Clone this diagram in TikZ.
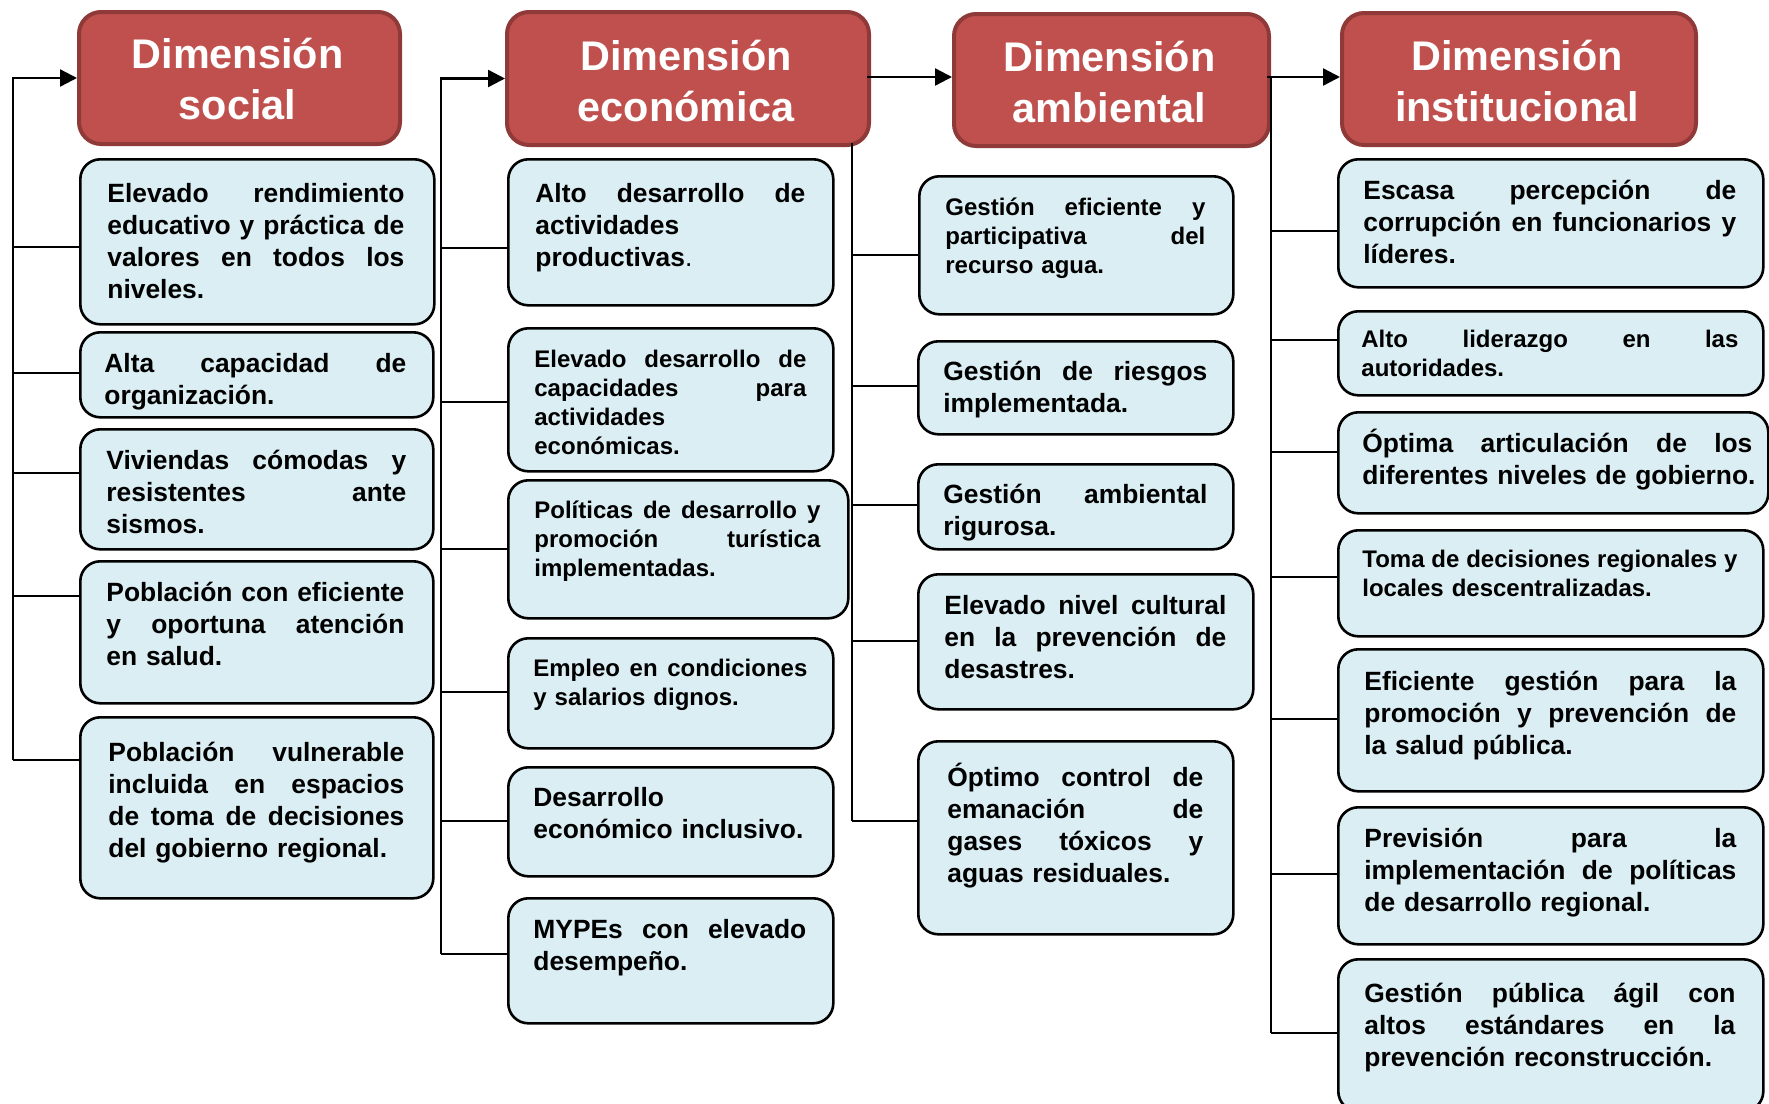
\documentclass[tikz,border=0pt]{standalone}
\usepackage{fontspec}
\setmainfont{Liberation Sans}
\usetikzlibrary{arrows.meta}
\definecolor{hdrfill}{HTML}{C0504D}
\definecolor{hdrline}{HTML}{8F3A38}
\definecolor{boxfill}{HTML}{DAEEF3}
\newcommand\jl[1]{{\spaceskip=\fontdimen2\font plus 1fill\relax\xspaceskip=\spaceskip\makebox[\hsize][s]{#1}}}
\tikzset{
  cbox/.style={draw=black,fill=boxfill,line width=1.3pt,rounded corners=10pt,anchor=north west,inner sep=0pt},
  hdr/.style={draw=hdrline,fill=hdrfill,line width=2pt,rounded corners=11pt,anchor=north west,inner sep=0pt},
  txt/.style={anchor=base west,inner sep=0pt,align=left},
  big/.style={font=\fontsize{13.2}{16}\selectfont\bfseries},
  small/.style={font=\fontsize{12}{14.5}\selectfont\bfseries},
  htxt/.style={anchor=base,inner sep=0pt,align=center,text=white,text width=170pt,
    font=\fontsize{20.7}{25.5}\selectfont\bfseries},
  conn/.style={line width=1.2pt,draw=black},
  arr/.style={conn,-{Triangle[length=8.5pt,width=8.5pt]}},
}
\newcommand\mkbox[6]{%
  \pgfmathsetmacro\bw{(#4-#2)*0.5}\pgfmathsetmacro\bh{(#5-#3)*0.5}%
  \node[#6,minimum width=\bw pt,minimum height=\bh pt] (#1) at (#2,#3) {};}
\newcommand\mktext[6]{%
  \pgfmathsetmacro\tw{(#3-#2)*0.5}%
  \node[txt,#5,text width=\tw pt] (#1) at (#2,#4) {#6};}
\begin{document}
\hyphenpenalty=10000 \exhyphenpenalty=10000
\begin{tikzpicture}[x=0.5pt,y=-0.5pt]
\useasboundingbox (0,0) rectangle (1769,1104);

% ---------- headers ----------
\mkbox{hs}{77}{10}{398}{142}{hdr}
\node[htxt] (hst) at (237.5,68) {Dimensión\\social};
\mkbox{he}{505}{10}{867}{143}{hdr}
\node[htxt] (het) at (686,70) {Dimensión\\económica};
\mkbox{ha}{952}{12}{1267}{144}{hdr}
\node[htxt] (hat) at (1109.5,71) {Dimensión\\ambiental};
\mkbox{hi}{1340}{11}{1694}{143}{hdr}
\node[htxt] (hit) at (1517,70) {Dimensión\\institucional};

% ---------- social ----------
\mkbox{s1}{79}{158}{433}{323}{cbox}
\mktext{s1t}{107}{404}{202}{big}{\jl{Elevado rendimiento}\\\jl{educativo y práctica de}\\\jl{valores en todos los}\\niveles.}
\mkbox{s2}{79}{331}{432}{416}{cbox}
\mktext{s2t}{104}{406}{372}{big}{\jl{Alta capacidad de}\\organización.}
\mkbox{s3}{79}{428}{432}{548}{cbox}
\mktext{s3t}{106}{406}{469}{big}{\jl{Viviendas cómodas y}\\\jl{resistentes ante}\\sismos.}
\mkbox{s4}{79}{560}{432}{702}{cbox}
\mktext{s4t}{106}{404}{601}{big}{\jl{Población con eficiente}\\\jl{y oportuna atención}\\en salud.}
\mkbox{s5}{79}{716}{432}{897}{cbox}
\mktext{s5t}{108}{404}{761}{big}{\jl{Población vulnerable}\\\jl{incluida en espacios}\\\jl{de toma de decisiones}\\del gobierno regional.}

% ---------- economica ----------
\mkbox{e1}{507}{158}{832}{304}{cbox}
\mktext{e1t}{535}{805}{202}{big}{\jl{Alto desarrollo de}\\actividades\\productivas{\mdseries.}}
\mkbox{e2}{507}{327}{832}{470}{cbox}
\mktext{e2t}{534}{806}{367}{small}{\jl{Elevado desarrollo de}\\\jl{capacidades para}\\actividades\\económicas.}
\mkbox{e3}{507}{479}{847}{617}{cbox}
\mktext{e3t}{534}{820}{518}{small}{\jl{Políticas de desarrollo y}\\\jl{promoción turística}\\implementadas.}
\mkbox{e4}{507}{637}{832}{747}{cbox}
\mktext{e4t}{533}{807}{676}{small}{\jl{Empleo en condiciones}\\y salarios dignos.}
\mkbox{e5}{507}{766}{832}{875}{cbox}
\mktext{e5t}{533}{806}{806}{big}{Desarrollo\\económico inclusivo.}
\mkbox{e6}{507}{897}{832}{1022}{cbox}
\mktext{e6t}{533}{806}{938}{big}{\jl{MYPEs con elevado}\\desempeño.}

% ---------- ambiental ----------
\mkbox{a1}{918}{175}{1232}{313}{cbox}
\mktext{a1t}{945}{1205}{215}{small}{\jl{Gestión eficiente y}\\\jl{participativa del}\\recurso agua.}
\mkbox{a2}{917}{340}{1232}{433}{cbox}
\mktext{a2t}{943}{1207}{380}{big}{\jl{Gestión de riesgos}\\implementada.}
\mkbox{a3}{917}{463}{1232}{548}{cbox}
\mktext{a3t}{943}{1207}{503}{big}{\jl{Gestión ambiental}\\rigurosa.}
\mkbox{a4}{917}{573}{1252}{708}{cbox}
\mktext{a4t}{944}{1226}{614}{big}{\jl{Elevado nivel cultural}\\\jl{en la prevención de}\\desastres.}
\mkbox{a5}{917}{740}{1232}{933}{cbox}
\mktext{a5t}{947}{1203}{786}{big}{\jl{Óptimo control de}\\\jl{emanación de}\\\jl{gases tóxicos y}\\aguas residuales.}

% ---------- institucional ----------
\mkbox{i1}{1337}{158}{1762}{286}{cbox}
\mktext{i1t}{1363}{1736}{199}{big}{\jl{Escasa percepción de}\\\jl{corrupción en funcionarios y}\\líderes.}
\mkbox{i2}{1337}{310}{1762}{394}{cbox}
\mktext{i2t}{1361}{1738}{347}{small}{\jl{Alto liderazgo en las}\\autoridades.}
\mkbox{i3}{1337}{411}{1767}{512}{cbox}
\mktext{i3t}{1362}{1752}{452}{big}{\jl{Óptima articulación de los}\\\mbox{diferentes niveles de gobierno.}}
\mkbox{i4}{1337}{529}{1762}{635}{cbox}
\mktext{i4t}{1362}{1737}{567}{small}{\jl{Toma de decisiones regionales y}\\locales descentralizadas.}
\mkbox{i5}{1337}{648}{1762}{790}{cbox}
\mktext{i5t}{1364}{1736}{690}{big}{\jl{Eficiente gestión para la}\\\jl{promoción y prevención de}\\la salud pública.}
\mkbox{i6}{1337}{806}{1762}{943}{cbox}
\mktext{i6t}{1364}{1736}{847}{big}{\jl{Previsión para la}\\\jl{implementación de políticas}\\de desarrollo regional.}
\mkbox{i7}{1337}{958}{1762}{1110}{cbox}
\mktext{i7t}{1364}{1735}{1002}{big}{\jl{Gestión pública ágil con}\\\jl{altos estándares en la}\\prevención reconstrucción.}

% ---------- connectors ----------
% social spine
\coordinate (sbot) at (13,760);
\draw[arr] (sbot) |- (hs.west);
\foreach \n/\y in {s1/247,s2/373,s3/473,s4/596,s5/760}{
  \coordinate (j\n) at (13,\y);
  \draw[conn] (j\n) -- (j\n -| \n.west);
}
% economic spine
\coordinate (ebot) at (441,954);
\draw[arr] (ebot) |- (he.west);
\foreach \n/\y in {e1/248,e2/402,e3/549,e4/692,e5/821,e6/954}{
  \coordinate (j\n) at (441,\y);
  \draw[conn] (j\n) -- (j\n -| \n.west);
}
% economic -> ambiental
\coordinate (ea) at (867,77);
\draw[arr] (ea) -- (ea -| ha.west);
% ambiental spine
\coordinate (atop) at (852,143);
\coordinate (abot) at (852,821);
\draw[conn] (atop) -- (abot);
\foreach \n/\y in {a1/255,a2/386,a3/505,a4/641,a5/821}{
  \coordinate (j\n) at (852,\y);
  \draw[conn] (j\n) -- (j\n -| \n.west);
}
% ambiental -> institucional
\coordinate (ai) at (1267,77);
\draw[arr] (ai) -- (ai -| hi.west);
% institucional spine
\coordinate (itop) at (1271,77);
\coordinate (ibot) at (1271,1033);
\draw[conn] (itop) -- (ibot);
\foreach \n/\y in {i1/231,i2/340,i3/452,i4/577,i5/719,i6/874,i7/1033}{
  \coordinate (j\n) at (1271,\y);
  \draw[conn] (j\n) -- (j\n -| \n.west);
}
\end{tikzpicture}
\end{document}
